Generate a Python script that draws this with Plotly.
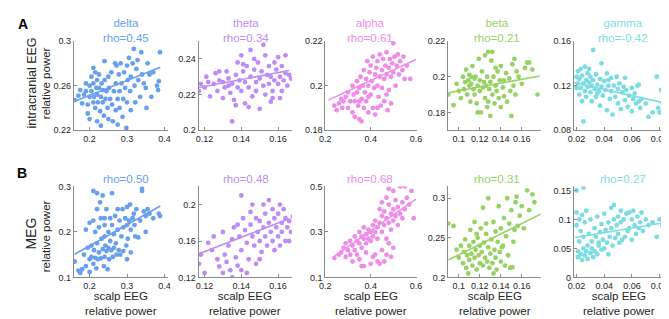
import plotly.graph_objects as go

W, H = 669, 319

bands = ["delta", "theta", "alpha", "beta", "gamma"]
colors = ["#68a0ee", "#be8cf5", "#ee8ce8", "#96d264", "#7ddce1"]
rho_A = ["0.45", "0.34", "0.61", "0.21", "-0.42"]
rho_B = ["0.50", "0.48", "0.68", "0.31", "0.27"]

# ---------------- Row A: intracranial EEG vs scalp EEG ----------------
delta_A = [(0.16,0.247),(0.17,0.251),(0.175,0.256),(0.18,0.244),(0.185,0.252),(0.19,0.255),(0.19,0.262),(0.195,0.243),(0.195,0.235),(0.2,0.25),(0.2,0.26),(0.2,0.23),(0.205,0.255),(0.205,0.268),(0.21,0.245),(0.21,0.262),(0.21,0.276),(0.212,0.25),(0.215,0.272),(0.215,0.24),(0.218,0.258),(0.22,0.252),(0.22,0.265),(0.22,0.228),(0.222,0.245),(0.225,0.258),(0.225,0.27),(0.228,0.237),(0.23,0.25),(0.23,0.224),(0.232,0.262),(0.235,0.245),(0.235,0.256),(0.238,0.233),(0.24,0.265),(0.24,0.282),(0.242,0.248),(0.245,0.255),(0.248,0.24),(0.25,0.268),(0.25,0.23),(0.252,0.258),(0.255,0.248),(0.258,0.272),(0.26,0.243),(0.262,0.228),(0.265,0.255),(0.268,0.28),(0.27,0.238),(0.27,0.262),(0.272,0.278),(0.275,0.248),(0.275,0.225),(0.278,0.27),(0.28,0.255),(0.28,0.24),(0.283,0.28),(0.285,0.262),(0.288,0.232),(0.29,0.248),(0.292,0.272),(0.295,0.258),(0.298,0.222),(0.3,0.278),(0.3,0.245),(0.302,0.265),(0.305,0.285),(0.308,0.255),(0.31,0.268),(0.31,0.238),(0.315,0.28),(0.318,0.293),(0.32,0.26),(0.322,0.245),(0.325,0.275),(0.328,0.283),(0.33,0.265),(0.335,0.25),(0.338,0.29),(0.34,0.27),(0.345,0.262),(0.35,0.258),(0.352,0.24),(0.355,0.28),(0.36,0.27),(0.365,0.25),(0.37,0.272),(0.38,0.26),(0.385,0.264),(0.388,0.29),(0.383,0.256)]

theta_A = [(0.117,0.222),(0.118,0.226),(0.12,0.224),(0.121,0.23),(0.122,0.227),(0.123,0.219),(0.125,0.226),(0.126,0.232),(0.127,0.222),(0.128,0.228),(0.13,0.218),(0.13,0.227),(0.131,0.224),(0.132,0.233),(0.133,0.229),(0.134,0.221),(0.135,0.205),(0.135,0.226),(0.136,0.217),(0.137,0.231),(0.138,0.224),(0.138,0.238),(0.139,0.228),(0.14,0.242),(0.14,0.222),(0.141,0.233),(0.142,0.215),(0.142,0.227),(0.143,0.236),(0.144,0.224),(0.145,0.245),(0.145,0.23),(0.146,0.219),(0.147,0.234),(0.148,0.227),(0.148,0.222),(0.149,0.238),(0.15,0.212),(0.15,0.229),(0.151,0.233),(0.152,0.225),(0.152,0.248),(0.153,0.22),(0.154,0.231),(0.155,0.236),(0.155,0.226),(0.156,0.23),(0.157,0.222),(0.157,0.218),(0.158,0.228),(0.159,0.234),(0.16,0.226),(0.16,0.241),(0.161,0.23),(0.162,0.222),(0.162,0.236),(0.163,0.228),(0.164,0.232),(0.164,0.242),(0.165,0.225),(0.166,0.231),(0.167,0.229),(0.144,0.213),(0.137,0.214),(0.158,0.238),(0.153,0.242),(0.147,0.24),(0.141,0.237),(0.128,0.233),(0.133,0.225),(0.156,0.216),(0.161,0.218)]

alpha_A = [(0.24,0.191),(0.25,0.189),(0.26,0.192),(0.27,0.194),(0.275,0.19),(0.28,0.193),(0.29,0.195),(0.3,0.19),(0.3,0.197),(0.31,0.193),(0.32,0.2),(0.32,0.188),(0.325,0.196),(0.33,0.186),(0.33,0.193),(0.34,0.202),(0.34,0.197),(0.345,0.191),(0.35,0.185),(0.35,0.199),(0.355,0.204),(0.36,0.194),(0.36,0.184),(0.365,0.2),(0.37,0.19),(0.37,0.207),(0.375,0.197),(0.38,0.203),(0.38,0.193),(0.385,0.211),(0.39,0.2),(0.39,0.188),(0.395,0.206),(0.4,0.196),(0.4,0.209),(0.405,0.202),(0.41,0.19),(0.41,0.213),(0.415,0.199),(0.42,0.205),(0.42,0.187),(0.425,0.208),(0.43,0.2),(0.43,0.211),(0.435,0.195),(0.44,0.204),(0.44,0.214),(0.445,0.191),(0.45,0.207),(0.45,0.199),(0.455,0.212),(0.46,0.203),(0.46,0.193),(0.465,0.209),(0.47,0.205),(0.47,0.215),(0.475,0.189),(0.48,0.208),(0.48,0.198),(0.485,0.212),(0.49,0.204),(0.49,0.192),(0.495,0.21),(0.5,0.219),(0.5,0.206),(0.505,0.213),(0.51,0.2),(0.515,0.209),(0.52,0.214),(0.525,0.205),(0.53,0.211),(0.54,0.207),(0.545,0.213),(0.55,0.203),(0.56,0.209),(0.575,0.203),(0.47,0.196),(0.43,0.19),(0.39,0.195),(0.35,0.193)]

beta_A = [(0.09,0.19),(0.095,0.184),(0.098,0.196),(0.1,0.192),(0.102,0.188),(0.104,0.2),(0.105,0.193),(0.106,0.197),(0.107,0.204),(0.108,0.19),(0.109,0.198),(0.11,0.195),(0.11,0.201),(0.111,0.186),(0.112,0.196),(0.113,0.206),(0.114,0.193),(0.115,0.199),(0.115,0.19),(0.116,0.2),(0.117,0.185),(0.118,0.195),(0.119,0.21),(0.12,0.192),(0.12,0.198),(0.121,0.18),(0.122,0.203),(0.123,0.194),(0.124,0.197),(0.125,0.188),(0.125,0.212),(0.126,0.195),(0.127,0.2),(0.128,0.214),(0.128,0.186),(0.129,0.193),(0.13,0.197),(0.13,0.178),(0.131,0.209),(0.132,0.19),(0.133,0.2),(0.134,0.185),(0.135,0.195),(0.135,0.205),(0.136,0.192),(0.137,0.203),(0.138,0.188),(0.139,0.198),(0.14,0.183),(0.14,0.206),(0.142,0.194),(0.143,0.189),(0.145,0.202),(0.146,0.186),(0.148,0.199),(0.149,0.192),(0.15,0.178),(0.151,0.207),(0.152,0.195),(0.153,0.21),(0.154,0.19),(0.155,0.203),(0.157,0.2),(0.16,0.196),(0.163,0.205),(0.165,0.208),(0.167,0.208),(0.17,0.204),(0.175,0.19),(0.118,0.18),(0.112,0.2),(0.132,0.214),(0.143,0.198),(0.127,0.183)]

gamma_A = [(0.02,0.128),(0.02,0.118),(0.021,0.133),(0.021,0.122),(0.022,0.112),(0.022,0.126),(0.023,0.135),(0.023,0.118),(0.024,0.129),(0.024,0.106),(0.025,0.122),(0.025,0.088),(0.026,0.137),(0.026,0.115),(0.027,0.125),(0.027,0.11),(0.028,0.131),(0.028,0.119),(0.029,0.123),(0.03,0.114),(0.03,0.128),(0.031,0.12),(0.031,0.106),(0.032,0.152),(0.032,0.125),(0.033,0.117),(0.034,0.13),(0.034,0.11),(0.035,0.121),(0.036,0.115),(0.037,0.126),(0.037,0.102),(0.038,0.14),(0.038,0.119),(0.039,0.111),(0.04,0.124),(0.041,0.116),(0.042,0.131),(0.042,0.098),(0.043,0.12),(0.044,0.108),(0.045,0.127),(0.045,0.115),(0.046,0.094),(0.047,0.12),(0.048,0.11),(0.049,0.128),(0.05,0.104),(0.05,0.117),(0.051,0.122),(0.052,0.099),(0.053,0.114),(0.054,0.119),(0.055,0.107),(0.056,0.116),(0.057,0.101),(0.058,0.111),(0.06,0.118),(0.06,0.097),(0.061,0.108),(0.062,0.113),(0.063,0.104),(0.064,0.12),(0.065,0.106),(0.066,0.1),(0.067,0.108),(0.07,0.104),(0.072,0.092),(0.075,0.096),(0.078,0.128),(0.079,0.1),(0.08,0.096),(0.081,0.116),(0.082,0.105),(0.029,0.135),(0.035,0.113),(0.043,0.125),(0.055,0.127),(0.065,0.121)]

# ---------------- Row B: MEG vs scalp EEG ----------------
delta_B = [(0.16,0.135),(0.17,0.115),(0.175,0.11),(0.18,0.118),(0.185,0.15),(0.19,0.205),(0.19,0.125),(0.195,0.165),(0.2,0.22),(0.2,0.14),(0.2,0.112),(0.205,0.17),(0.205,0.145),(0.21,0.29),(0.21,0.225),(0.21,0.13),(0.212,0.16),(0.215,0.2),(0.215,0.143),(0.218,0.12),(0.22,0.285),(0.22,0.25),(0.22,0.175),(0.222,0.14),(0.225,0.21),(0.225,0.155),(0.228,0.265),(0.23,0.23),(0.23,0.142),(0.232,0.185),(0.235,0.28),(0.235,0.162),(0.238,0.125),(0.24,0.215),(0.24,0.19),(0.24,0.145),(0.242,0.17),(0.245,0.25),(0.245,0.158),(0.248,0.118),(0.25,0.2),(0.25,0.165),(0.252,0.14),(0.255,0.23),(0.255,0.18),(0.258,0.16),(0.26,0.285),(0.26,0.215),(0.262,0.145),(0.265,0.195),(0.265,0.165),(0.268,0.235),(0.27,0.175),(0.272,0.15),(0.275,0.25),(0.275,0.205),(0.278,0.16),(0.28,0.225),(0.282,0.15),(0.285,0.19),(0.288,0.25),(0.29,0.21),(0.29,0.158),(0.295,0.23),(0.298,0.17),(0.3,0.255),(0.3,0.215),(0.302,0.185),(0.305,0.225),(0.308,0.26),(0.31,0.205),(0.31,0.155),(0.315,0.23),(0.318,0.24),(0.32,0.215),(0.322,0.19),(0.325,0.25),(0.33,0.188),(0.335,0.225),(0.34,0.295),(0.34,0.29),(0.345,0.245),(0.35,0.235),(0.35,0.2),(0.355,0.25),(0.36,0.24),(0.37,0.23),(0.385,0.24),(0.388,0.235),(0.3,0.14),(0.24,0.23)]

theta_B = [(0.117,0.135),(0.118,0.145),(0.12,0.125),(0.122,0.158),(0.124,0.15),(0.125,0.165),(0.127,0.14),(0.128,0.132),(0.13,0.125),(0.13,0.17),(0.131,0.145),(0.132,0.137),(0.133,0.155),(0.134,0.128),(0.135,0.12),(0.135,0.162),(0.136,0.175),(0.137,0.142),(0.138,0.133),(0.139,0.165),(0.14,0.21),(0.14,0.15),(0.14,0.128),(0.141,0.185),(0.142,0.172),(0.143,0.158),(0.144,0.14),(0.145,0.178),(0.145,0.192),(0.146,0.165),(0.147,0.155),(0.148,0.135),(0.148,0.185),(0.149,0.17),(0.15,0.16),(0.15,0.182),(0.151,0.148),(0.152,0.175),(0.153,0.19),(0.153,0.165),(0.154,0.155),(0.155,0.205),(0.155,0.18),(0.156,0.17),(0.157,0.16),(0.158,0.185),(0.158,0.15),(0.159,0.175),(0.16,0.19),(0.16,0.165),(0.161,0.155),(0.162,0.18),(0.162,0.17),(0.163,0.195),(0.164,0.185),(0.164,0.16),(0.165,0.175),(0.166,0.182),(0.167,0.17),(0.168,0.187),(0.157,0.195),(0.152,0.2),(0.146,0.2),(0.138,0.178),(0.143,0.125),(0.166,0.16),(0.161,0.2),(0.15,0.14)]

alpha_B = [(0.24,0.185),(0.26,0.2),(0.27,0.21),(0.28,0.23),(0.29,0.25),(0.29,0.19),(0.3,0.22),(0.31,0.26),(0.31,0.2),(0.32,0.24),(0.32,0.17),(0.33,0.28),(0.33,0.22),(0.34,0.26),(0.34,0.2),(0.35,0.3),(0.35,0.25),(0.35,0.18),(0.36,0.28),(0.36,0.23),(0.37,0.32),(0.37,0.27),(0.37,0.15),(0.38,0.29),(0.38,0.25),(0.38,0.21),(0.39,0.31),(0.39,0.27),(0.4,0.3),(0.4,0.26),(0.4,0.16),(0.41,0.33),(0.41,0.28),(0.42,0.35),(0.42,0.3),(0.42,0.2),(0.43,0.32),(0.43,0.27),(0.44,0.4),(0.44,0.34),(0.44,0.16),(0.45,0.43),(0.45,0.37),(0.45,0.3),(0.45,0.22),(0.46,0.39),(0.46,0.33),(0.46,0.17),(0.47,0.45),(0.47,0.36),(0.47,0.27),(0.47,0.2),(0.48,0.49),(0.48,0.42),(0.48,0.34),(0.48,0.25),(0.49,0.38),(0.49,0.31),(0.49,0.19),(0.5,0.48),(0.5,0.4),(0.5,0.35),(0.5,0.23),(0.51,0.44),(0.51,0.37),(0.52,0.41),(0.52,0.33),(0.53,0.5),(0.53,0.38),(0.54,0.43),(0.54,0.36),(0.55,0.5),(0.55,0.4),(0.56,0.45),(0.57,0.42),(0.58,0.48),(0.59,0.36),(0.36,0.15),(0.43,0.17),(0.41,0.19)]

beta_B = [(0.09,0.268),(0.095,0.265),(0.098,0.235),(0.1,0.225),(0.102,0.24),(0.104,0.218),(0.105,0.232),(0.106,0.248),(0.107,0.212),(0.108,0.228),(0.109,0.205),(0.11,0.24),(0.11,0.222),(0.111,0.26),(0.112,0.23),(0.113,0.215),(0.114,0.245),(0.115,0.27),(0.115,0.225),(0.116,0.235),(0.117,0.21),(0.118,0.25),(0.119,0.228),(0.12,0.24),(0.12,0.218),(0.121,0.262),(0.122,0.232),(0.123,0.288),(0.123,0.215),(0.124,0.244),(0.125,0.225),(0.126,0.255),(0.127,0.22),(0.128,0.3),(0.128,0.238),(0.129,0.212),(0.13,0.23),(0.131,0.248),(0.132,0.218),(0.133,0.27),(0.134,0.235),(0.135,0.225),(0.135,0.258),(0.136,0.21),(0.137,0.245),(0.138,0.29),(0.139,0.232),(0.14,0.262),(0.14,0.22),(0.142,0.24),(0.143,0.275),(0.144,0.215),(0.145,0.252),(0.146,0.3),(0.147,0.228),(0.148,0.268),(0.149,0.212),(0.15,0.285),(0.151,0.213),(0.152,0.245),(0.154,0.295),(0.155,0.302),(0.156,0.265),(0.158,0.278),(0.16,0.29),(0.162,0.262),(0.165,0.31),(0.167,0.285),(0.17,0.305),(0.172,0.295),(0.126,0.268),(0.133,0.205),(0.117,0.255),(0.141,0.238),(0.153,0.26)]

gamma_B = [(0.02,0.15),(0.02,0.112),(0.02,0.09),(0.021,0.045),(0.021,0.035),(0.022,0.1),(0.022,0.062),(0.023,0.04),(0.023,0.08),(0.024,0.03),(0.024,0.108),(0.025,0.155),(0.025,0.05),(0.025,0.07),(0.026,0.038),(0.026,0.095),(0.027,0.045),(0.027,0.115),(0.028,0.055),(0.028,0.032),(0.029,0.075),(0.03,0.042),(0.03,0.1),(0.031,0.05),(0.031,0.062),(0.032,0.035),(0.033,0.085),(0.033,0.045),(0.034,0.07),(0.035,0.04),(0.035,0.105),(0.036,0.055),(0.037,0.078),(0.038,0.048),(0.038,0.092),(0.039,0.065),(0.04,0.11),(0.04,0.05),(0.041,0.082),(0.042,0.06),(0.043,0.095),(0.044,0.07),(0.045,0.12),(0.045,0.085),(0.046,0.055),(0.047,0.1),(0.047,0.125),(0.048,0.068),(0.049,0.09),(0.05,0.075),(0.05,0.105),(0.051,0.06),(0.052,0.095),(0.053,0.065),(0.054,0.1),(0.055,0.07),(0.056,0.11),(0.057,0.08),(0.058,0.085),(0.06,0.1),(0.06,0.065),(0.061,0.115),(0.062,0.09),(0.063,0.075),(0.064,0.105),(0.065,0.085),(0.066,0.095),(0.067,0.112),(0.068,0.08),(0.07,0.1),(0.072,0.09),(0.075,0.095),(0.078,0.07),(0.08,0.1),(0.082,0.09),(0.052,0.115),(0.058,0.112),(0.043,0.04),(0.036,0.06)]

points_A = [delta_A, theta_A, alpha_A, beta_A, gamma_A]
points_B = [delta_B, theta_B, alpha_B, beta_B, gamma_B]

# regression-line endpoints (data units)
fit_A_x = [[0.16, 0.389], [0.117, 0.166], [0.213, 0.6], [0.09, 0.177], [0.018, 0.084]]
fit_A_y = [[0.246, 0.2765], [0.224, 0.2335], [0.1935, 0.2117], [0.191, 0.2004], [0.1226, 0.1044]]
fit_B_x = [[0.16, 0.389], [0.117, 0.166], [0.23, 0.6], [0.09, 0.178], [0.019, 0.084]]
fit_B_y = [[0.151, 0.257], [0.146, 0.1845], [0.186, 0.444], [0.222, 0.280], [0.069, 0.0945]]

# axis ranges and ticks
x_range = [[0.158, 0.41], [0.1168, 0.1675], [0.2, 0.603], [0.0898, 0.1786], [0.018, 0.084]]
x_ticks = [[0.2, 0.3, 0.4], [0.12, 0.14, 0.16], [0.2, 0.4, 0.6], [0.1, 0.12, 0.14, 0.16], [0.02, 0.04, 0.06, 0.08]]
x_ticklabels = [["0.2", "0.3", "0.4"], ["0.12", "0.14", "0.16"], ["0.2", "0.4", "0.6"],
                ["0.1", "0.12", "0.14", "0.16"], ["0.02", "0.04", "0.06", "0.08"]]
yA_range = [[0.22, 0.3], [0.2, 0.25], [0.18, 0.22], [0.17, 0.22], [0.08, 0.16]]
yA_ticks = [[0.22, 0.26, 0.3], [0.2, 0.22, 0.24], [0.18, 0.2, 0.22], [0.18, 0.2, 0.22], [0.08, 0.12, 0.16]]
yA_ticklabels = [["0.22", "0.26", "0.3"], ["0.2", "0.22", "0.24"], ["0.18", "0.2", "0.22"],
                 ["0.18", "0.2", "0.22"], ["0.08", "0.12", "0.16"]]
yB_range = [[0.1, 0.3], [0.12, 0.22], [0.1, 0.5], [0.2, 0.315], [0.0, 0.157]]
yB_ticks = [[0.1, 0.2, 0.3], [0.12, 0.16, 0.2], [0.1, 0.3, 0.5], [0.2, 0.25, 0.3], [0, 0.05, 0.1, 0.15]]
yB_ticklabels = [["0.1", "0.2", "0.3"], ["0.12", "0.16", "0.2"], ["0.1", "0.3", "0.5"],
                 ["0.2", "0.25", "0.3"], ["0", "0.05", "0.1", "0.15"]]

# layout geometry (pixels)
panel_left = [61, 188, 317, 442, 570]
panel_right = [157, 283, 410, 537, 663]
rowA_top, rowA_bottom = 29, 121
rowB_top, rowB_bottom = 179, 273
title_x = [114, 236, 362, 492, 620]

FONT = "Liberation Sans, Arial, sans-serif"
AXC = "#8a8a8a"
TXT = "#262626"


def px(x):
    return x / W


def py(y):
    return 1 - y / H


fig = go.Figure()
layout = dict(width=W, height=H, margin=dict(l=0, r=0, t=0, b=0),
              paper_bgcolor="white", plot_bgcolor="white", showlegend=False,
              font=dict(family=FONT, color=TXT))

annotations = []
idx = 0
for row, (pts_set, fx, fy, yr, yt, ytl, top, bot) in enumerate([
        (points_A, fit_A_x, fit_A_y, yA_range, yA_ticks, yA_ticklabels, rowA_top, rowA_bottom),
        (points_B, fit_B_x, fit_B_y, yB_range, yB_ticks, yB_ticklabels, rowB_top, rowB_bottom)]):
    for i in range(5):
        idx += 1
        xa = "x" if idx == 1 else f"x{idx}"
        ya = "y" if idx == 1 else f"y{idx}"
        pts = pts_set[i]
        fig.add_trace(go.Scatter(x=[p[0] for p in pts], y=[p[1] for p in pts], mode="markers",
                                 marker=dict(color=colors[i], size=4.8, line=dict(width=0)),
                                 xaxis=xa, yaxis=ya))
        fig.add_trace(go.Scatter(x=fx[i], y=fy[i], mode="lines",
                                 line=dict(color=colors[i], width=1.6),
                                 xaxis=xa, yaxis=ya))
        common = dict(showgrid=False, zeroline=False, showline=True, linecolor=AXC, linewidth=1,
                      ticks="inside", ticklen=3, tickcolor=AXC, tickmode="array",
                      tickfont=dict(size=9, color=TXT, family=FONT))
        layout["xaxis" if idx == 1 else f"xaxis{idx}"] = dict(
            common, domain=[px(panel_left[i]), px(panel_right[i])], range=x_range[i],
            tickvals=x_ticks[i], ticktext=x_ticklabels[i], anchor=ya)
        layout["yaxis" if idx == 1 else f"yaxis{idx}"] = dict(
            common, domain=[py(bot), py(top)], range=yr[i],
            tickvals=yt[i], ticktext=ytl[i], anchor=xa)
        cx = title_x[i]
        if row == 0:
            annotations.append(dict(text=bands[i] + "<br>rho=" + rho_A[i], x=px(cx), y=py(18),
                                    xref="paper", yref="paper", showarrow=False,
                                    xanchor="center", yanchor="middle", align="center", borderpad=0,
                                    font=dict(size=11.5, color=colors[i])))
        else:
            annotations.append(dict(text="rho=" + rho_B[i], x=px(cx), y=py(171), xref="paper", yref="paper",
                                    showarrow=False, xanchor="center", yanchor="middle", borderpad=0,
                                    font=dict(size=11.5, color=colors[i])))
            xc = (panel_left[i] + panel_right[i]) / 2
            annotations.append(dict(text="scalp EEG<br>relative power", x=px(xc), y=py(300),
                                    xref="paper", yref="paper", showarrow=False,
                                    xanchor="center", yanchor="middle", align="center", borderpad=0,
                                    font=dict(size=11.5, color=TXT)))

# row labels
annotations += [
    dict(text="intracranial EEG", x=px(18), y=py(72), textangle=-90, font=dict(size=12.5, color=TXT)),
    dict(text="relative power", x=px(32), y=py(72), textangle=-90, font=dict(size=11.5, color=TXT)),
    dict(text="MEG", x=px(17), y=py(228), textangle=-90, font=dict(size=14, color=TXT)),
    dict(text="relative power", x=px(32), y=py(230), textangle=-90, font=dict(size=11.5, color=TXT)),
    dict(text="<b>A</b>", x=px(9), y=py(11), font=dict(size=14, color="black")),
    dict(text="<b>B</b>", x=px(8), y=py(165), font=dict(size=14, color="black")),
]
for a in annotations[-6:]:
    a.update(xref="paper", yref="paper", showarrow=False, xanchor="center", yanchor="middle", borderpad=0)

layout["annotations"] = annotations
fig.update_layout(**layout)
fig.write_html("out.html")
